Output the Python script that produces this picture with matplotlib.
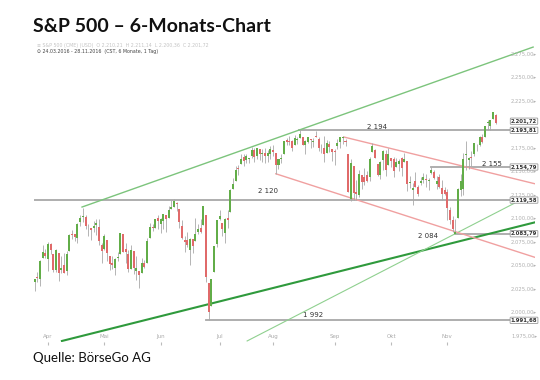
import pandas as pd
import matplotlib.pyplot as plt

# S&P 500 daily candles, 24.03.2016 - 28.11.2016
opens = [2032.5, 2037.9, 2035.8, 2058.3, 2063.8,
         2056.6, 2073.2, 2062.5, 2045.6, 2063.0, 2045.5, 2050.2, 2043.7, 2065.9, 2082.9, 2083.1,
         2078.8, 2096.1, 2101.5, 2102.1, 2091.5, 2089.4, 2089.8, 2092.6, 2090.9, 2071.8,
         2067.2, 2077.2, 2060.3, 2053.0, 2047.8, 2057.6, 2062.6, 2083.3, 2067.2, 2062.5, 2046.5,
         2065.0, 2044.4, 2044.2, 2041.9, 2052.2, 2052.7, 2078.9, 2091.4, 2090.1, 2100.1,
         2093.9, 2097.7, 2104.1, 2100.8, 2110.2, 2112.7, 2115.7, 2109.6, 2091.8, 2076.7, 2077.6,
         2066.4, 2078.2, 2075.6, 2085.2, 2089.8, 2092.8, 2103.8, 2031.5, 2006.7, 2042.7, 2073.2,
         2099.3, 2095.1, 2084.4, 2100.4, 2107.0, 2131.7, 2139.5, 2153.8, 2157.9, 2165.1,
         2162.0, 2163.8, 2166.1, 2173.1, 2166.5, 2173.7, 2169.0, 2169.8, 2166.1, 2168.8,
         2173.2, 2169.9, 2156.8, 2163.5, 2168.8, 2183.8, 2182.2, 2182.8, 2178.0, 2183.7, 2186.1,
         2186.2, 2177.8, 2181.9, 2184.2, 2181.6, 2187.8, 2185.1, 2173.3, 2175.1, 2170.2, 2179.5, 2173.6,
         2171.3, 2177.5, 2181.6, 2185.2, 2182.8, 2169.1, 2120.9, 2155.4, 2127.9, 2125.4, 2146.5,
         2144.0, 2145.9, 2144.6, 2170.9, 2173.3, 2158.5, 2146.0, 2161.9, 2168.9, 2156.5,
         2164.3, 2163.4, 2155.2, 2158.2, 2164.2, 2160.4, 2161.4, 2137.7, 2130.3, 2139.7, 2133.0,
         2138.3, 2140.8, 2142.5, 2139.4, 2148.5, 2149.7, 2137.0, 2144.1, 2132.2, 2129.8,
         2128.7, 2109.4, 2098.8, 2083.8, 2100.6, 2129.9, 2131.6, 2167.5, 2162.7, 2165.6,
         2168.3, 2177.5, 2178.6, 2186.9, 2186.4, 2201.6, 2198.6, 2206.3, 2210.2]
highs = [2036.0, 2042.7, 2055.9, 2072.2, 2067.9,
         2075.1, 2074.0, 2062.5, 2067.3, 2063.0, 2060.6, 2062.9, 2065.1, 2083.2, 2087.8, 2083.2,
         2094.7, 2104.1, 2111.1, 2103.8, 2094.3, 2089.4, 2096.9, 2099.9, 2099.3, 2073.9,
         2083.4, 2077.2, 2060.3, 2060.2, 2057.7, 2064.2, 2084.9, 2083.3, 2074.0, 2066.8, 2071.9,
         2065.7, 2060.6, 2044.2, 2058.4, 2055.6, 2079.7, 2094.7, 2094.3, 2099.1, 2103.5,
         2101.0, 2105.3, 2104.1, 2113.4, 2119.2, 2120.6, 2117.6, 2109.6, 2098.1, 2081.3, 2085.7,
         2079.6, 2078.2, 2100.7, 2093.7, 2099.7, 2113.3, 2103.8, 2031.5, 2036.1, 2071.0, 2098.9,
         2108.7, 2095.1, 2100.7, 2109.1, 2131.7, 2143.2, 2155.4, 2156.5, 2169.1, 2169.1,
         2168.4, 2164.6, 2175.6, 2174.6, 2175.1, 2173.7, 2173.5, 2175.0, 2172.9, 2177.1,
         2178.3, 2170.2, 2163.8, 2168.2, 2182.9, 2185.4, 2187.7, 2183.4, 2188.5, 2186.3, 2193.8,
         2186.2, 2183.1, 2187.0, 2185.0, 2185.2, 2193.4, 2186.7, 2179.0, 2187.9, 2183.5, 2182.3, 2173.8,
         2173.6, 2184.9, 2186.6, 2187.9, 2184.9, 2169.1, 2163.3, 2155.4, 2141.3, 2151.3, 2146.5,
         2153.6, 2150.8, 2165.1, 2180.0, 2173.8, 2158.5, 2161.1, 2172.4, 2172.7, 2175.3,
         2164.4, 2165.5, 2164.0, 2162.9, 2165.9, 2169.6, 2161.6, 2145.4, 2138.2, 2149.2, 2135.6,
         2144.4, 2148.4, 2147.2, 2142.6, 2154.8, 2151.4, 2145.7, 2147.1, 2140.7, 2133.3,
         2131.5, 2111.8, 2102.6, 2099.1, 2132.0, 2146.9, 2170.1, 2182.3, 2165.9, 2171.4,
         2180.8, 2179.2, 2188.1, 2189.9, 2198.7, 2204.8, 2204.7, 2213.4, 2211.1]
lows = [2022.5, 2032.0, 2028.3, 2058.3, 2057.5,
        2044.0, 2062.6, 2042.6, 2043.1, 2033.8, 2041.7, 2041.9, 2039.7, 2065.9, 2078.1, 2076.3,
        2073.7, 2091.7, 2096.3, 2088.5, 2081.2, 2077.5, 2085.8, 2082.3, 2071.6, 2052.3,
        2066.1, 2054.9, 2045.6, 2045.8, 2039.5, 2054.3, 2062.6, 2064.5, 2053.1, 2043.1, 2046.5,
        2040.8, 2034.5, 2025.9, 2041.9, 2047.3, 2052.7, 2078.9, 2087.1, 2090.1, 2088.7,
        2085.1, 2088.6, 2085.4, 2100.8, 2110.2, 2112.7, 2107.7, 2090.0, 2078.5, 2064.1, 2069.8,
        2050.4, 2062.8, 2075.6, 2083.0, 2084.4, 2092.8, 2032.6, 1991.7, 2006.7, 2042.7, 2070.0,
        2097.9, 2080.9, 2074.0, 2089.4, 2107.0, 2131.7, 2139.5, 2146.2, 2157.9, 2155.8,
        2159.1, 2159.0, 2164.9, 2159.8, 2163.2, 2162.0, 2160.2, 2159.1, 2159.7, 2163.5,
        2166.2, 2147.6, 2152.6, 2159.1, 2168.8, 2177.9, 2178.6, 2172.0, 2178.0, 2179.4, 2186.1,
        2178.1, 2168.5, 2180.5, 2175.1, 2176.0, 2186.8, 2171.3, 2169.7, 2160.4, 2170.2, 2170.4, 2161.4,
        2157.1, 2173.6, 2175.1, 2179.1, 2177.5, 2127.8, 2119.1, 2120.1, 2119.9, 2122.4, 2131.2,
        2135.9, 2139.2, 2139.6, 2170.9, 2164.0, 2145.0, 2141.6, 2151.8, 2145.2, 2156.5,
        2154.8, 2144.0, 2155.2, 2150.3, 2144.9, 2160.4, 2128.8, 2132.8, 2114.7, 2133.0, 2124.4,
        2135.5, 2138.2, 2133.4, 2130.1, 2146.9, 2141.9, 2131.6, 2132.5, 2119.4, 2125.5,
        2097.9, 2094.0, 2085.2, 2083.8, 2100.6, 2123.6, 2125.4, 2151.2, 2152.5, 2156.1,
        2166.4, 2172.2, 2176.7, 2180.4, 2186.4, 2194.5, 2194.5, 2206.3, 2200.4]
closes = [2035.9, 2037.1, 2055.0, 2064.0, 2059.7,
          2072.8, 2066.1, 2045.2, 2066.7, 2041.9, 2047.6, 2042.0, 2061.7, 2082.4, 2082.8, 2080.7,
          2094.3, 2100.8, 2102.4, 2091.5, 2091.6, 2087.8, 2091.7, 2095.2, 2075.8, 2065.3,
          2081.4, 2063.4, 2051.1, 2050.6, 2057.1, 2058.7, 2084.4, 2064.5, 2064.1, 2046.6, 2066.7,
          2047.2, 2047.6, 2040.0, 2052.3, 2048.0, 2076.1, 2090.5, 2090.1, 2099.1, 2097.0,
          2099.3, 2105.3, 2099.1, 2109.4, 2112.1, 2119.1, 2115.5, 2096.1, 2079.1, 2075.3, 2071.5,
          2078.0, 2071.2, 2083.3, 2088.9, 2085.5, 2113.3, 2037.4, 2000.5, 2036.1, 2070.8, 2098.9,
          2103.0, 2088.6, 2099.7, 2097.9, 2129.9, 2137.2, 2152.1, 2152.4, 2163.8, 2161.7,
          2166.9, 2163.8, 2173.0, 2165.2, 2175.0, 2168.5, 2169.2, 2166.6, 2170.1, 2173.6,
          2170.8, 2157.0, 2163.8, 2164.3, 2182.9, 2180.9, 2181.7, 2175.5, 2185.8, 2184.1, 2190.2,
          2178.2, 2182.2, 2187.0, 2183.9, 2182.6, 2186.9, 2175.4, 2172.5, 2169.0, 2180.4, 2176.1, 2171.0,
          2170.9, 2180.0, 2186.5, 2186.2, 2181.3, 2127.8, 2159.0, 2127.0, 2125.8, 2147.3, 2139.2,
          2139.1, 2139.8, 2163.1, 2177.2, 2164.7, 2146.1, 2159.9, 2171.4, 2151.1, 2168.3,
          2161.2, 2150.5, 2159.7, 2160.8, 2153.7, 2163.7, 2136.7, 2139.2, 2132.6, 2133.0, 2126.5,
          2139.6, 2144.3, 2141.3, 2141.2, 2151.3, 2143.2, 2139.4, 2133.0, 2126.4, 2126.2,
          2111.7, 2097.9, 2088.7, 2085.2, 2131.5, 2139.6, 2163.3, 2167.5, 2164.5, 2164.2,
          2180.4, 2176.9, 2187.1, 2181.9, 2198.2, 2202.9, 2204.7, 2213.4, 2201.7]

holidays = ["2016-03-25", "2016-05-30", "2016-07-04", "2016-09-05", "2016-11-24"]
month_names = ["Apr", "Mai", "Jun", "Jul", "Aug", "Sep", "Okt", "Nov"]

# horizontal levels: value, index where the line starts, label
level_values = [2193.81, 2154.79, 2119.58, 2083.79, 1991.68]
level_start = [99, 148, 0, 157, 64]
level_names = ["2 194", "2 155", "2 120", "2 084", "1 992"]
last_close = 2201.72

# trend lines (index, price)
trend_green_x = [17.7, 186.0]
trend_green_y = [2112.2, 2282.4]
trend_dark_x = [10.2, 188.6]
trend_dark_y = [1969.7, 2097.3]
trend_light_x = [79.3, 179.2]
trend_light_y = [1969.7, 2116.5]
red_upper_x = [115.4, 188.6]
red_upper_y = [2186.7, 2135.6]
red_lower_x = [90.0, 188.6]
red_lower_y = [2147.6, 2056.9]

y_ticks = [1975, 2000, 2025, 2050, 2075, 2100, 2125, 2150, 2175, 2225, 2250, 2275]  # 2200 sits under the close box

dates = pd.bdate_range("2016-03-24", "2016-11-28")
dates = dates[~dates.isin(pd.to_datetime(holidays))]
x = list(range(len(closes)))
month_idx = [i for i in x[1:] if dates[i].month != dates[i - 1].month]


def de(v):
    s = f"{v:,.2f}"
    return s.replace(",", "X").replace(".", ",").replace("X", ".")


fig = plt.figure(figsize=(5.4, 3.8), dpi=100)
ax = fig.add_axes([34 / 540, 1 - 342 / 380, 501 / 540, 297 / 380])
ax.set_xlim(-0.22, 186.7)
ax.set_ylim(1968.6, 2284.6)
for s in ax.spines.values():
    s.set_visible(False)
ax.set_yticks([])
ax.set_xticks(month_idx)
ax.tick_params(axis="x", length=2.5, color="#bbbbbb", labelbottom=False)

x_lab = 182.6
for v in y_ticks:
    ax.text(x_lab, v, de(v) + "▸", fontsize=3.8, color="#b0b0b0", ha="center", va="center")
for i, m in zip(month_idx, month_names):
    ax.text(i, 1974, m, fontsize=4, color="#aaaaaa", ha="center", va="center")

box = dict(boxstyle="round,pad=0.12", fc="white", ec="#9a9a9a", lw=0.6)

# levels
for v, st, name in zip(level_values, level_start, level_names):
    ax.plot([st - 0.2, 178.5], [v, v], color="#a8a8a8", lw=1.3, zorder=1)
    ax.text(x_lab, v, de(v), fontsize=3.9, fontweight="bold", color="#333333",
            ha="center", va="center", zorder=6, bbox=box)
ax.text(x_lab, last_close + 1.8, de(last_close), fontsize=3.9, fontweight="bold",
        color="#333333", ha="center", va="center", zorder=6, bbox=box)

ax.text(127.8, 2197.5, "2 194", fontsize=5, color="#333333", ha="center", va="center")
ax.text(170.7, 2158.0, "2 155", fontsize=5, color="#333333", ha="center", va="center")
ax.text(87.0, 2129.3, "2 120", fontsize=5, color="#333333", ha="center", va="center")
ax.text(146.8, 2081.4, "2 084", fontsize=5, color="#333333", ha="center", va="center")
ax.text(103.9, 1997.3, "1 992", fontsize=5, color="#333333", ha="center", va="center")

# trend lines
ax.plot(trend_green_x, trend_green_y, color="#7cc47c", lw=1.0, zorder=1)
ax.plot(trend_dark_x, trend_dark_y, color="#2f9a3c", lw=1.5, zorder=1)
ax.plot(trend_light_x, trend_light_y, color="#8fd08f", lw=0.8, zorder=1)
ax.plot(red_upper_x, red_upper_y, color="#f0a0a0", lw=1.0, zorder=1)
ax.plot(red_lower_x, red_lower_y, color="#f0a0a0", lw=1.0, zorder=1)

# candles
body_bottom = [min(o, c) for o, c in zip(opens, closes)]
body_height = [max(abs(c - o), 0.6) for o, c in zip(opens, closes)]
colors = ["#62ad48" if c >= o else "#e06a6a" for o, c in zip(opens, closes)]
ax.vlines(x, lows, highs, color="#a8a8a8", lw=0.6, zorder=2)
ax.bar(x, body_height, bottom=body_bottom, width=0.75, color=colors, zorder=3)

fig.text(33 / 540, 1 - 27 / 380, "S&P 500 – 6-Monats-Chart", fontsize=14,
         fontweight="bold", family="Lato", color="#111111", va="center")
fig.text(37 / 540, 1 - 45 / 380,
         "≡ S&P 500 (CME) (USD)  O 2.210,21  H 2.211,14  L 2.200,36  C 2.201,72",
         fontsize=3.4, color="#c4c4c4", va="center")
fig.text(37 / 540, 1 - 51 / 380, "⊙ 24.03.2016 - 28.11.2016  (CST, 6 Monate, 1 Tag)",
         fontsize=3.4, color="#444444", va="center")
fig.text(33 / 540, 1 - 358 / 380, "Quelle: BörseGo AG", fontsize=9.5, family="Lato",
         color="#111111", va="center")

fig.savefig("out.png", dpi=100)
